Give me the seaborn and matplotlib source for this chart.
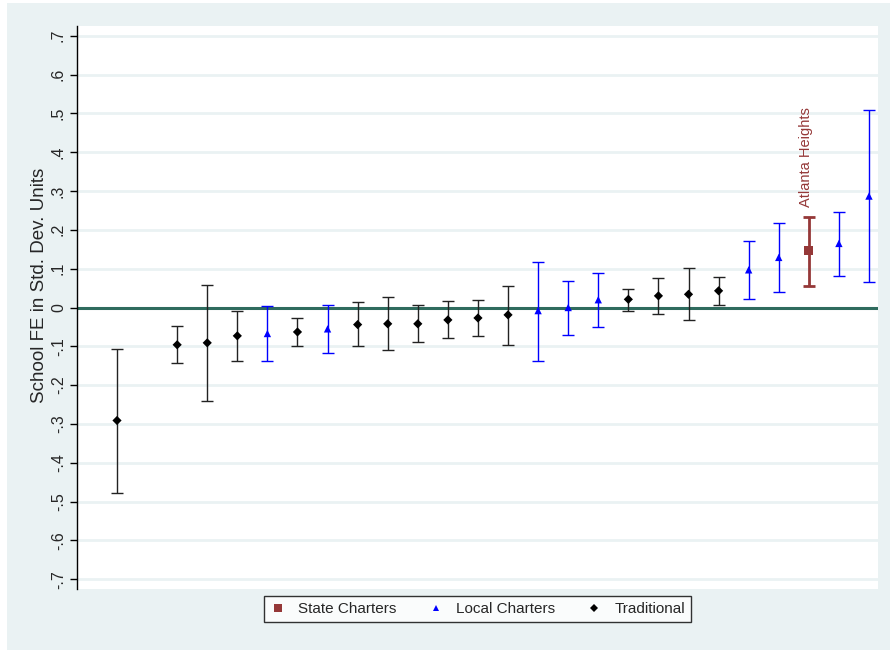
import numpy as np
import matplotlib.pyplot as plt
import matplotlib.patches as patches
import pandas as pd
import seaborn as sns

# School fixed effects, sorted by estimate (rank 2 has no estimate)
rank = [1, 3, 4, 5, 6, 7, 8, 9, 10, 11, 12, 13, 14, 15, 16, 17, 18, 19, 20, 21, 22, 23, 24, 25, 26]
estimate = [-0.291, -0.096, -0.091, -0.073, -0.067, -0.063, -0.055, -0.044, -0.042, -0.042,
            -0.032, -0.027, -0.019, -0.008, 0.000, 0.020, 0.021, 0.030, 0.034, 0.043,
            0.097, 0.129, 0.146, 0.165, 0.287]
ci_low = [-0.477, -0.142, -0.241, -0.139, -0.139, -0.099, -0.116, -0.099, -0.109, -0.090,
          -0.079, -0.073, -0.097, -0.139, -0.070, -0.049, -0.010, -0.017, -0.033, 0.006,
          0.023, 0.040, 0.055, 0.082, 0.066]
ci_high = [-0.107, -0.047, 0.058, -0.008, 0.003, -0.027, 0.006, 0.013, 0.026, 0.006,
           0.017, 0.019, 0.056, 0.118, 0.069, 0.090, 0.048, 0.075, 0.102, 0.079,
           0.171, 0.217, 0.234, 0.246, 0.509]
school_type = ["Traditional", "Traditional", "Traditional", "Traditional", "Local Charters",
               "Traditional", "Local Charters", "Traditional", "Traditional", "Traditional",
               "Traditional", "Traditional", "Traditional", "Local Charters", "Local Charters",
               "Local Charters", "Traditional", "Traditional", "Traditional", "Traditional",
               "Local Charters", "Local Charters", "State Charters", "Local Charters", "Local Charters"]
highlight_name = "Atlanta Heights"

ytick_vals = [-0.7, -0.6, -0.5, -0.4, -0.3, -0.2, -0.1, 0, 0.1, 0.2, 0.3, 0.4, 0.5, 0.6, 0.7]
ytick_labels = ["-.7", "-.6", "-.5", "-.4", "-.3", "-.2", "-.1", "0",
                ".1", ".2", ".3", ".4", ".5", ".6", ".7"]

df = pd.DataFrame({"rank": rank, "fe": estimate, "lo": ci_low, "hi": ci_high, "type": school_type})

sns.set_style("white")
plt.rcParams["font.family"] = ["Liberation Sans", "DejaVu Sans"]

colors = {"State Charters": "#953838", "Local Charters": "#0000ff", "Traditional": "#000000"}
bar_colors = {"State Charters": "#953838", "Local Charters": "#0000ff", "Traditional": "#222222"}
markers = {"State Charters": "s", "Local Charters": "^", "Traditional": "D"}
order = ["State Charters", "Local Charters", "Traditional"]

fig = plt.figure(figsize=(8.9, 6.52), dpi=100)
fig.patch.set_facecolor("white")
# light Stata-style panel behind the plot
fig.patches.append(patches.Rectangle((7 / 890, 2 / 652), 1, 647 / 652, transform=fig.transFigure,
                                     facecolor="#eaf2f3", edgecolor="none", zorder=-10))
ax = fig.add_axes([77 / 890, 1 - 589 / 652, 801 / 890, 563 / 652])
ax.set_facecolor("white")

ax.axhline(0, color="#2f6b5e", linewidth=2.2, zorder=2)

# confidence intervals
for t in order:
    sub = df[df["type"] == t]
    thick = 2.0 if t == "State Charters" else 1.0
    ax.errorbar(sub["rank"], sub["fe"], yerr=[sub["fe"] - sub["lo"], sub["hi"] - sub["fe"]],
                fmt="none", ecolor=bar_colors[t], elinewidth=thick, capthick=thick,
                capsize=4.5 if t == "State Charters" else 4, zorder=3)

sizes = {"State Charters": 45, "Local Charters": 28, "Traditional": 22}
sns.scatterplot(data=df, x="rank", y="fe", hue="type", style="type", hue_order=order,
                style_order=order, palette=colors, markers=markers, size="type",
                sizes=sizes, size_order=order, edgecolor="none", linewidth=0, ax=ax, zorder=4)

hl = df[df["type"] == "State Charters"].iloc[0]
ax.text(hl["rank"] - 0.1, hl["hi"] + 0.025, highlight_name, rotation=90, ha="center", va="bottom",
        fontsize=10.5, color="#953838")

ax.set_xlim(-0.33, 26.3)
ax.set_ylim(-0.725, 0.725)
ax.set_xticks([])
ax.set_yticks(ytick_vals)
ax.set_yticklabels(ytick_labels, rotation=90, va="center", fontsize=11.5)
ax.yaxis.grid(True, color="#eaf2f3", linewidth=2)
ax.set_axisbelow(True)
ax.tick_params(axis="y", direction="out", length=5, width=1, color="black", pad=3, left=True)
for s in ["top", "right", "bottom"]:
    ax.spines[s].set_visible(False)
ax.spines["left"].set_color("black")
ax.spines["left"].set_linewidth(1)
ax.set_xlabel("")
ax.set_ylabel("School FE in Std. Dev. Units", fontsize=13.5)
ax.yaxis.set_label_coords(-0.036, 0.54)

sns.move_legend(ax, "upper center", bbox_to_anchor=(0.5, -0.012), ncol=3, title=None,
                frameon=True, fancybox=False, fontsize=11, markerscale=0.8,
                handlelength=1.0, columnspacing=2.1, handletextpad=0.8, borderpad=0.4,
                borderaxespad=0, edgecolor="black")
leg = ax.get_legend()
leg.get_frame().set_linewidth(1)

fig.savefig("out.png", dpi=100, facecolor=fig.get_facecolor())
